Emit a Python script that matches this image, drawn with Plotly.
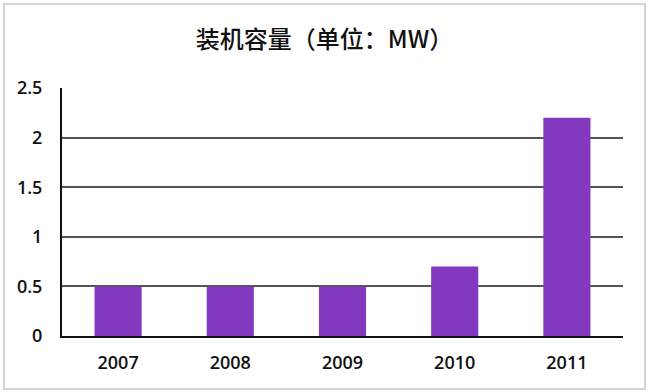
import plotly.graph_objects as go

years = ["2007", "2008", "2009", "2010", "2011"]
capacity_mw = [0.5, 0.5, 0.5, 0.7, 2.2]
y_ticks = [0, 0.5, 1, 1.5, 2, 2.5]
y_tick_labels = ["0", "0.5", "1", "1.5", "2", "2.5"]
title_text = "装机容量（单位：MW）"

fig = go.Figure(go.Bar(x=years, y=capacity_mw, marker=dict(color="#8338C0", line=dict(width=0))))

W, H = 649, 392
L, R, T, B = 62, 26, 88, 56
tick_font = dict(family="Open Sans", size=18, color="#111111", weight=600)
fig.update_layout(
    width=W, height=H,
    margin=dict(l=L, r=R, t=T, b=B),
    paper_bgcolor="white", plot_bgcolor="white",
    bargap=0.58,
    showlegend=False,
    title=dict(text=title_text, x=0.5, xanchor="center", y=1 - 40 / H, yanchor="middle",
               font=dict(family="Noto Sans CJK SC", size=24, color="#111111", weight=500)),
    font=dict(family="Open Sans", color="#111111"),
)
fig.update_yaxes(range=[0, 2.5], tickvals=y_ticks, ticktext=y_tick_labels,
                 showgrid=True, gridcolor="#555555", gridwidth=1.5,
                 showline=True, linecolor="#111111", linewidth=2,
                 zeroline=False, ticks="", ticklen=0, ticklabelstandoff=14,
                 tickfont=tick_font)
fig.update_xaxes(showline=True, linecolor="#111111", linewidth=2, ticks="",
                 ticklabelstandoff=9, tickfont=tick_font)
fig.add_shape(type="rect", xref="paper", yref="paper",
              x0=-(L - 4) / (W - L - R), x1=1 + (R - 4) / (W - L - R),
              y0=-(B - 3) / (H - T - B), y1=1 + (T - 4) / (H - T - B),
              line=dict(color="#d4d4d4", width=2), layer="below")
fig.write_html("out.html", config={"displayModeBar": False},
               post_script="document.body.style.margin='0';document.body.style.overflow='hidden';")
